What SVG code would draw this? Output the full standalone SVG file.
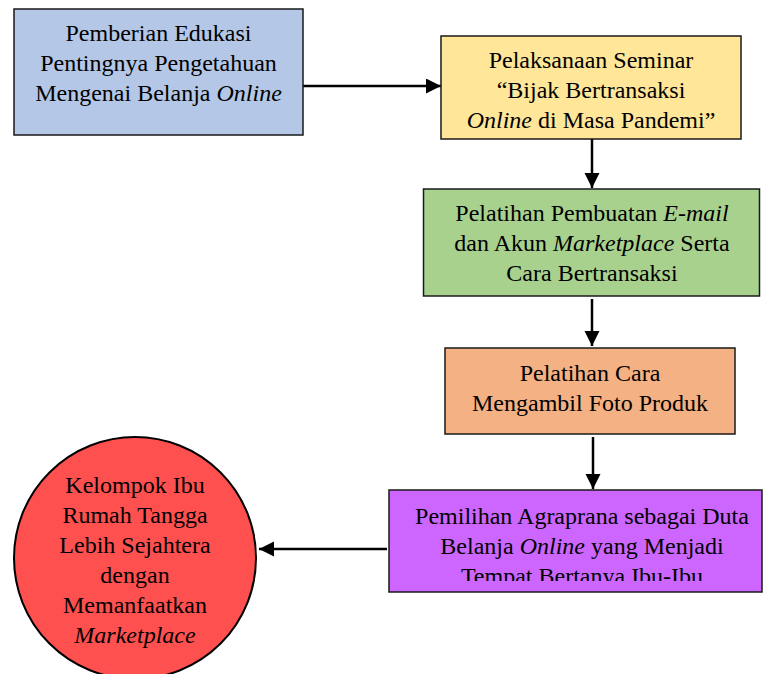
<svg xmlns="http://www.w3.org/2000/svg" width="764" height="674" viewBox="0 0 764 674">
<style>
.box{stroke:#1a1a1a;stroke-width:1.5}
.t{font-family:"Liberation Serif","Times New Roman",serif;font-size:24px;fill:#000;text-anchor:middle}
.i{font-style:italic}
.c{stroke:#000;stroke-width:2.5;fill:none}
</style>
<defs>
<marker id="ah" markerUnits="userSpaceOnUse" markerWidth="16" markerHeight="16" refX="15" refY="7.5" orient="auto">
<path d="M0,0 L15,7.5 L0,15 Z" fill="#000"/>
</marker>
<clipPath id="pclip"><rect x="389" y="490" width="375" height="91"/></clipPath>
</defs>
<g id="connectors">
<line class="c" x1="303" y1="86" x2="441" y2="86" marker-end="url(#ah)"/>
<line class="c" x1="592" y1="139" x2="592" y2="188" marker-end="url(#ah)"/>
<line class="c" x1="592" y1="299" x2="592" y2="346" marker-end="url(#ah)"/>
<line class="c" x1="593" y1="437" x2="593" y2="489" marker-end="url(#ah)"/>
<line class="c" x1="387" y1="549" x2="259" y2="549" marker-end="url(#ah)"/>
</g>
<g id="n1">
<rect class="box" x="14" y="9" width="289" height="126" fill="#B4C7E7"/>
<text class="t" x="158.5" y="41">Pemberian Edukasi</text>
<text class="t" x="158.5" y="71">Pentingnya Pengetahuan</text>
<text class="t" x="158.5" y="101">Mengenai Belanja <tspan class="i">Online</tspan></text>
</g>
<g id="n2">
<rect class="box" x="441" y="36" width="300" height="103" fill="#FFE699"/>
<text class="t" x="591" y="68">Pelaksanaan Seminar</text>
<text class="t" x="591" y="98">“Bijak Bertransaksi</text>
<text class="t" x="591" y="128"><tspan class="i">Online</tspan> di Masa Pandemi”</text>
</g>
<g id="n3">
<rect class="box" x="423.5" y="189" width="336" height="107" fill="#A9D18E"/>
<text class="t" x="592" y="221">Pelatihan Pembuatan <tspan class="i">E-mail</tspan></text>
<text class="t" x="592" y="251">dan Akun <tspan class="i">Marketplace</tspan> Serta</text>
<text class="t" x="592" y="281">Cara Bertransaksi</text>
</g>
<g id="n4">
<rect class="box" x="445" y="348" width="290" height="86" fill="#F4B183"/>
<text class="t" x="590" y="381">Pelatihan Cara</text>
<text class="t" x="590" y="411">Mengambil Foto Produk</text>
</g>
<g id="n5">
<rect class="box" x="389" y="490" width="373" height="102" fill="#CC66FF"/>
<text class="t" x="582" y="524">Pemilihan Agraprana sebagai Duta</text>
<text class="t" x="582" y="554">Belanja <tspan class="i">Online</tspan> yang Menjadi</text>
<text class="t" x="582" y="584" clip-path="url(#pclip)">Tempat Bertanya Ibu-Ibu</text>
</g>
<g id="n6">
<circle cx="135" cy="558" r="121" fill="#FF5050" stroke="#000" stroke-width="2"/>
<text class="t" x="135" y="493">Kelompok Ibu</text>
<text class="t" x="135" y="523">Rumah Tangga</text>
<text class="t" x="135" y="553">Lebih Sejahtera</text>
<text class="t" x="135" y="583">dengan</text>
<text class="t" x="135" y="613">Memanfaatkan</text>
<text class="t" x="135" y="643" font-style="italic">Marketplace</text>
</g>
</svg>
